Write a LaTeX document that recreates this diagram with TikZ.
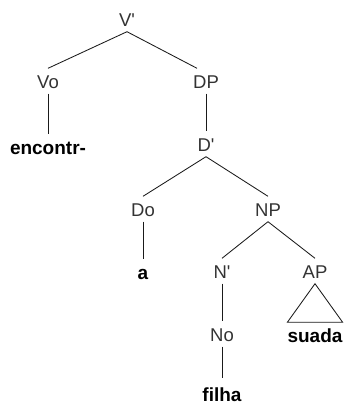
\documentclass[tikz,border=0pt]{standalone}
\usepackage{fontspec}
\setmainfont{Liberation Sans}
\usetikzlibrary{calc}
\definecolor{labelgray}{HTML}{333333}
\definecolor{edgegray}{HTML}{1A1A1A}
\tikzset{
  % every label sits on its baseline; the box spans 13.5pt above and 11.5pt below the optical centre
  lbl/.style={anchor=base, inner xsep=0pt, inner ysep=0pt, text height=20pt, text depth=5pt,
              font=\fontsize{18.5}{22}\selectfont, text=labelgray},
  word/.style={lbl, font=\fontsize{19}{22}\selectfont\bfseries, text=black},
  edge/.style={draw=edgegray, line width=0.85pt}
}
\begin{document}
\begin{tikzpicture}[x=1pt, y=-1pt]
  \useasboundingbox (0,0) rectangle (344,405);

  % category labels (positions given by baseline)
  \node[lbl]  (Vbar) at (127,26.5)  {V\textquotesingle};
  \node[lbl]  (Vo)   at (48,88.5)   {Vo};
  \node[lbl]  (DP)   at (206,88.5)  {DP};
  \node[word] (enc)  at (48,154.5)  {encontr-};
  \node[lbl]  (Dbar) at (206,151.5) {D\textquotesingle};
  \node[lbl]  (Do)   at (143,216.5) {Do};
  \node[lbl]  (NP)   at (268,216.5) {NP};
  \node[word] (a)    at (143,279.5) {a};
  \node[lbl]  (Nbar) at (222,278.5) {N\textquotesingle};
  \node[lbl]  (AP)   at (315,278.5) {AP};
  \node[lbl]  (No)   at (222,341.5) {No};
  \node[word] (suada) at (315,342.5) {suada};
  \node[word, text depth=0pt] (filha) at (222,401) {filha};

  % branches
  \draw[edge] (Vbar.south) -- (Vo.north);
  \draw[edge] (Vbar.south) -- ([xshift=-9pt]DP.north);
  \draw[edge] (Vo.south) -- (enc.north);
  \draw[edge] (DP.south) -- (Dbar.north);
  \draw[edge] (Dbar.south) -- (Do.north);
  \draw[edge] (Dbar.south) -- (NP.north);
  \draw[edge] (Do.south) -- (a.north);
  \draw[edge] (NP.south) -- (Nbar.north);
  \draw[edge] (NP.south) -- (AP.north);
  \draw[edge] (Nbar.south) -- (No.north);
  \draw[edge] (No.south) -- ([yshift=3pt]filha.north);

  % unanalysed constituent under AP
  \draw[edge, line join=miter] (AP.south) -- (suada.north west) -- (suada.north east) -- cycle;
\end{tikzpicture}
\end{document}
